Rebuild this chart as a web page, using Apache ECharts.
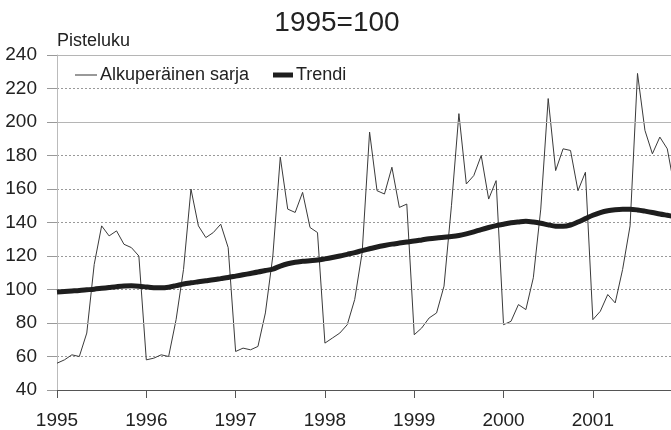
<!DOCTYPE html>
<html>
<head>
<meta charset="utf-8">
<script src="https://cdn.jsdelivr.net/npm/echarts@6/dist/echarts.min.js"></script>
<style>
  html, body { margin: 0; padding: 0; background: #fff; }
  #chart { width: 671px; height: 430px; }
</style>
</head>
<body>
<div id="chart"></div>
<script>
    // kuukausittaiset arvot, tammikuu 1995 = kuukausi 0
    const startYear = 1995;
    const yearTicks = [1995, 1996, 1997, 1998, 1999, 2000, 2001];
    const original = [
        56, 58, 61, 60, 74, 115, 138, 132, 135, 127, 125, 120,
        58, 59, 61, 60, 82, 112, 160, 138, 131, 134, 139, 125,
        63, 65, 64, 66, 86, 120, 179, 148, 146, 158, 137, 134,
        68, 71, 74, 79, 94, 122, 194, 159, 157, 173, 149, 151,
        73, 77, 83, 86, 102, 150, 205, 163, 168, 180, 154, 165,
        79, 81, 91, 88, 107, 148, 214, 171, 184, 183, 159, 170,
        82, 87, 97, 92, 112, 138, 229, 195, 181, 191, 184, 160
    ];
    const trend = [
        98.5, 98.8, 99.1, 99.4, 99.8, 100.2, 100.7, 101.2, 101.7, 102.1, 102.2, 102.0,
        101.5, 101.1, 101.0, 101.4, 102.3, 103.3, 104.0, 104.6, 105.2, 105.8, 106.5, 107.2,
        108.0, 108.8, 109.6, 110.4, 111.3, 112.2, 114.0, 115.4, 116.3, 116.8, 117.2, 117.6,
        118.3, 119.1, 120.0, 121.0, 122.0, 123.2, 124.3, 125.4, 126.3, 127.1, 127.7, 128.3,
        128.9, 129.6, 130.3, 130.8, 131.2, 131.6, 132.2, 133.2, 134.4, 135.8, 137.0, 138.1,
        139.0, 139.8, 140.3, 140.7, 140.3, 139.6, 138.6, 137.8, 137.7, 138.5, 140.3, 142.3,
        144.3, 145.9, 147.0, 147.6, 147.9, 147.9, 147.5, 146.8, 146.0, 145.1, 144.3, 143.5
    ];
    const solidLines = [240, 200, 80];

    const font = '"Liberation Sans", Arial, sans-serif';
    const textColor = '#222';

    const chart = echarts.init(document.getElementById('chart'), null, {renderer: 'canvas'});

    const option = {
        animation: false,
        backgroundColor: '#fff',
        title: {
            text: '1995=100',
            left: 332,
            top: 4,
            textAlign: 'center',
            textStyle: {fontFamily: font, fontSize: 28, fontWeight: 'normal', color: textColor}
        },
        legend: [
            {
                data: ['Alkuperäinen sarja'],
                left: 70,
                top: 61,
                icon: 'rect',
                itemWidth: 22,
                itemHeight: 1,
                itemGap: 3,
                textStyle: {fontFamily: font, fontSize: 18, color: textColor, padding: [0, 0, 0, -2]}
            },
            {
                data: ['Trendi'],
                left: 268,
                top: 61,
                icon: 'rect',
                itemWidth: 20,
                itemHeight: 5,
                textStyle: {fontFamily: font, fontSize: 18, color: textColor, padding: [0, 0, 0, -2]}
            }
        ],
        grid: {left: 57, right: 0, top: 55, bottom: 37},
        xAxis: {
            type: 'value',
            min: 0,
            max: 82.5,
            interval: 12,
            axisLine: {lineStyle: {color: '#555', width: 1}},
            axisTick: {length: 8, lineStyle: {color: '#555'}},
            axisLabel: {
                fontFamily: font,
                fontSize: 19,
                color: textColor,
                margin: 21,
                showMaxLabel: false,
                formatter: v => (v % 12 === 0 ? String(startYear + v / 12) : '')
            },
            splitLine: {show: false}
        },
        yAxis: {
            type: 'value',
            min: 40,
            max: 240,
            interval: 20,
            name: 'Pisteluku',
            nameLocation: 'end',
            nameGap: 14,
            nameTextStyle: {fontFamily: font, fontSize: 18, color: textColor, align: 'left', verticalAlign: 'middle'},
            axisLine: {show: true, lineStyle: {color: '#bbb'}},
            axisTick: {show: true, length: 10, lineStyle: {color: '#999'}},
            axisLabel: {fontFamily: font, fontSize: 19, color: textColor, margin: 20},
            splitLine: {lineStyle: {color: '#999', type: [2, 2], width: 1}}
        },
        series: [
            {
                name: 'Alkuperäinen sarja',
                type: 'line',
                data: original.map((v, i) => [i, v]),
                showSymbol: false,
                color: '#333',
                lineStyle: {color: '#3a3a3a', width: 1},
                markLine: {
                    silent: true,
                    symbol: 'none',
                    label: {show: false},
                    lineStyle: {type: 'solid', color: '#b5b5b5', width: 1},
                    data: solidLines.map(v => ({yAxis: v}))
                },
                z: 2
            },
            {
                name: 'Trendi',
                type: 'line',
                data: trend.map((v, i) => [i, v]),
                showSymbol: false,
                smooth: 0.3,
                color: '#1e1e1e',
                lineStyle: {color: '#1e1e1e', width: 5},
                z: 3
            }
        ]
    };

    chart.setOption(option);
</script>
</body>
</html>
